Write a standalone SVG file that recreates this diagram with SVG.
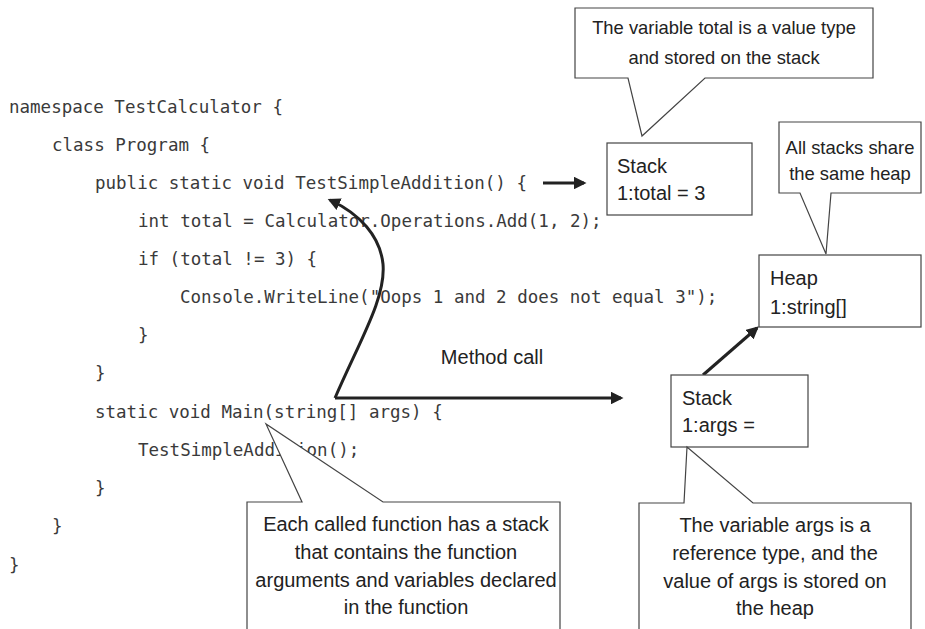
<svg xmlns="http://www.w3.org/2000/svg" width="925" height="629" viewBox="0 0 925 629">
<style>
.code{font-family:"DejaVu Sans Mono","Liberation Mono",monospace;font-size:17.5px;fill:#3a3a3a}
.lbl{font-family:"Liberation Sans",Arial,sans-serif;font-size:20px;fill:#222}
.sm{font-size:18.4px}
.mid{text-anchor:middle}
.box{fill:#fff;stroke:#444;stroke-width:1.2}
.arr{fill:none;stroke:#222;stroke-width:3}
</style>
<defs>
<marker id="ah" viewBox="0 0 10 10" refX="8" refY="5" markerWidth="4.2" markerHeight="4.2" orient="auto" markerUnits="strokeWidth">
<path d="M0,0 L10,5 L0,10 Z" fill="#222"/>
</marker>
</defs>
<rect width="925" height="629" fill="#fff"/>
<g id="code">
<text class="code" x="9" y="113">namespace TestCalculator {</text>
<text class="code" x="52" y="151">class Program {</text>
<text class="code" x="95" y="189">public static void TestSimpleAddition() {</text>
<text class="code" x="138" y="227">int total = Calculator.Operations.Add(1, 2);</text>
<text class="code" x="138" y="265">if (total != 3) {</text>
<text class="code" x="180" y="303">Console.WriteLine("Oops 1 and 2 does not equal 3");</text>
<text class="code" x="138" y="341">}</text>
<text class="code" x="95" y="379">}</text>
<text class="code" x="95" y="418">static void Main(string[] args) {</text>
<text class="code" x="138" y="456">TestSimpleAddition();</text>
<text class="code" x="95" y="494">}</text>
<text class="code" x="52" y="532">}</text>
<text class="code" x="9" y="571">}</text>
</g>
<g id="connectors">
<path class="arr" d="M543,183 L584,183" marker-end="url(#ah)"/>
<path class="arr" d="M335,398 L621,398" marker-end="url(#ah)"/>
<path class="arr" d="M335,398 C360,340 386,298 383,264 C380,236 360,214 330,200" marker-end="url(#ah)"/>
<path class="arr" d="M703,375 L757,328" marker-end="url(#ah)"/>
<text class="lbl mid" x="492" y="364">Method call</text>
</g>
<g id="callout-total">
<path class="box" d="M575,8 H873 V78 H705 L642,136 L628,78 H575 Z"/>
<text class="lbl sm mid" x="724" y="34">The variable total is a value type</text>
<text class="lbl sm mid" x="724" y="64">and stored on the stack</text>
</g>
<g id="stack-total">
<rect class="box" x="607" y="143" width="145" height="72"/>
<text class="lbl" x="617" y="173">Stack</text>
<text class="lbl" x="617" y="200">1:total = 3</text>
</g>
<g id="callout-heap">
<path class="box" d="M779,122 H921 V193 H831 L826,254 L800,193 H779 Z"/>
<text class="lbl sm mid" x="850" y="154">All stacks share</text>
<text class="lbl sm mid" x="850" y="180">the same heap</text>
</g>
<g id="heap">
<rect class="box" x="759" y="255" width="162" height="72"/>
<text class="lbl" x="770" y="285">Heap</text>
<text class="lbl" x="770" y="314">1:string[]</text>
</g>
<g id="stack-args">
<rect class="box" x="671" y="375" width="137" height="72"/>
<text class="lbl" x="682" y="405">Stack</text>
<text class="lbl" x="682" y="432">1:args =</text>
</g>
<g id="callout-args">
<path class="box" d="M639,640 V503 H684 L687,447 L753,503 H911 V640"/>
<text class="lbl mid" x="775" y="532">The variable args is a</text>
<text class="lbl mid" x="775" y="560">reference type, and the</text>
<text class="lbl mid" x="775" y="588">value of args is stored on</text>
<text class="lbl mid" x="775" y="615">the heap</text>
</g>
<g id="callout-stack">
<path class="box" d="M247,640 V502 H302 L266,424 L383,502 H560 V640"/>
<text class="lbl mid" x="406" y="531">Each called function has a stack</text>
<text class="lbl mid" x="406" y="559">that contains the function</text>
<text class="lbl mid" x="406" y="587">arguments and variables declared</text>
<text class="lbl mid" x="406" y="614">in the function</text>
</g>
</svg>
